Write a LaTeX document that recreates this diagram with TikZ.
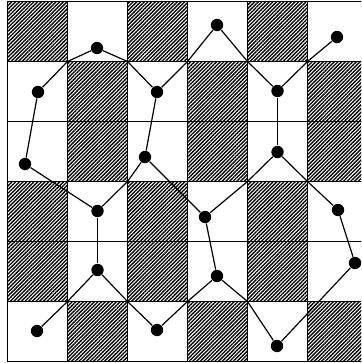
\documentclass[tikz,border=0pt]{standalone}
\usetikzlibrary{patterns.meta}
\begin{document}
\begin{tikzpicture}[x=0.5pt,y=-0.5pt,
  dot/.style={circle,fill=black,inner sep=0pt,minimum size=6.2pt},
  hatch/.style={pattern={Lines[angle=45,distance=1.3pt,line width=0.68pt]}},
  gridline/.style={line width=0.8pt},
  edge/.style={line width=0.6pt}]
\useasboundingbox (0,0) rectangle (361,363);
\begin{scope}
\clip (0,0) rectangle (361,363);
% hatched squares
\foreach \r/\off in {0/0,1/1,2/1,3/0,4/0,5/1} {
  \foreach \c in {0,2,4} {
    \pgfmathsetmacro\cc{\c+\off}
    \fill[hatch] ({7.5+60*\cc},{1.5+60*\r}) rectangle ++(60,60);
  }
}
% grid
\foreach \i in {0,...,6} \draw[gridline] ({7.5+60*\i},1.5) -- ({7.5+60*\i},361.5);
\foreach \j in {0,...,6} \draw[gridline] (7.5,{1.5+60*\j}) -- (368,{1.5+60*\j});
\end{scope}
% grid corners used by the connectors
\coordinate (c11) at (67.5,61.5);
\coordinate (c21) at (127.5,61.5);
\coordinate (c31) at (187.5,61.5);
\coordinate (c41) at (247.5,61.5);
\coordinate (c51) at (307.5,61.5);
\coordinate (c23) at (127.5,181.5);
\coordinate (c43) at (247.5,181.5);
\coordinate (c53) at (307.5,181.5);
\coordinate (c15) at (67.5,301.5);
\coordinate (c25) at (127.5,301.5);
\coordinate (c35) at (187.5,301.5);
\coordinate (c45) at (247.5,301.5);
% dots
\node[dot] (A) at (97,48) {};
\node[dot] (B) at (38,92) {};
\node[dot] (C) at (157,92) {};
\node[dot] (D) at (25,164) {};
\node[dot] (E) at (145,157) {};
\node[dot] (F) at (217,25) {};
\node[dot] (G) at (337,37) {};
\node[dot] (H) at (277.5,91) {};
\node[dot] (I) at (277.5,152) {};
\node[dot] (J) at (97.5,211) {};
\node[dot] (K) at (97.5,270) {};
\node[dot] (L) at (37,331) {};
\node[dot] (M) at (157,330) {};
\node[dot] (N) at (205,217) {};
\node[dot] (O) at (217,276) {};
\node[dot] (P) at (277,346) {};
\node[dot] (Q) at (338,210) {};
\node[dot] (R) at (355,263) {};
% connectors
\draw[edge] (B) -- (c11) -- (A) -- (c21) -- (C) -- (c31) -- (F) -- (c41) -- (H) -- (c51) -- (G);
\draw[edge] (C) -- (E);
\draw[edge] (B) -- (D);
\draw[edge] (D) -- (J);
\draw[edge] (E) -- (c23) -- (J);
\draw[edge] (E) -- (N);
\draw[edge] (J) -- (K);
\draw[edge] (H) -- (I);
\draw[edge] (I) -- (c43) -- (N);
\draw[edge] (I) -- (c53) -- (Q);
\draw[edge] (Q) -- (R);
\draw[edge] (R) -- (P);
\draw[edge] (K) -- (c15) -- (L);
\draw[edge] (K) -- (c25) -- (M);
\draw[edge] (M) -- (c35) -- (O);
\draw[edge] (O) -- (c45) -- (P);
\draw[edge] (N) -- (O);
\end{tikzpicture}
\end{document}
